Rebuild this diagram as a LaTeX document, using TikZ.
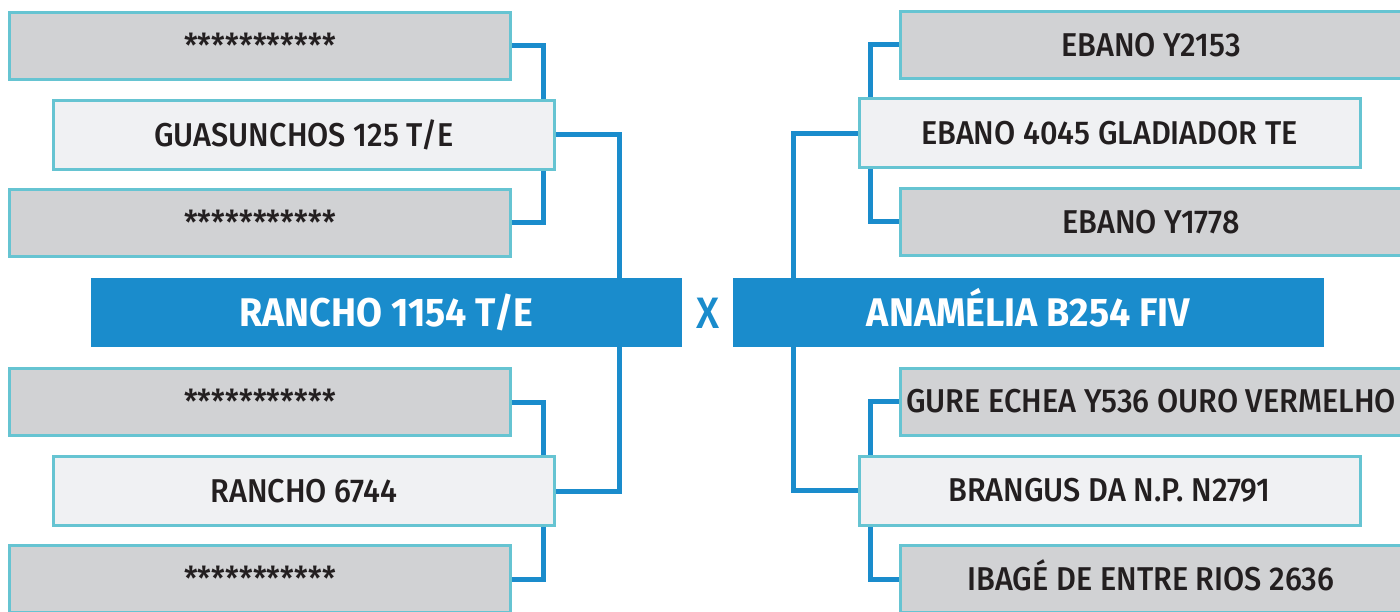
\documentclass[tikz,border=0pt]{standalone}
\usepackage{fontspec}
\setmainfont{Fira Sans}
\newfontfamily\boxfont{Fira Sans Medium}[FakeStretch=0.93]
\newfontfamily\animalfont{Fira Sans}[FakeStretch=0.94]
\usetikzlibrary{positioning}

\definecolor{bracketblue}{HTML}{1A8CCC}
\definecolor{edgeteal}{HTML}{66C4D2}
\definecolor{sirefill}{HTML}{D1D2D4}
\definecolor{parentfill}{HTML}{F0F1F3}
\definecolor{inkdark}{HTML}{231F20}

\begin{document}
\begin{tikzpicture}[
      x=1pt, y=-1pt,
      grand/.style={draw=edgeteal, line width=3pt, fill=sirefill, text=inkdark,
        minimum width=501pt, minimum height=67pt, inner sep=0pt,
        text height=22.7pt, text depth=0pt,
        font=\boxfont\fontsize{33}{36}\selectfont},
      parent/.style={grand, fill=parentfill, minimum height=69pt},
      animal/.style={fill=bracketblue, text=white, minimum width=591pt, minimum height=69pt,
        inner sep=0pt, text height=27.6pt, text depth=0pt,
        font=\animalfont\fontsize{40}{44}\selectfont\bfseries},
      link/.style={draw=bracketblue, line width=5pt},
    ]
    \useasboundingbox (0,0) rectangle (1400,612);

    % the two animals crossed
    \node[animal] (bull) at (386.5,312.5) {RANCHO 1154 T/E};
    \node[animal] (cow) at (1028.5,312.5) {ANAMÉLIA B254 FIV};
    \node[text=bracketblue, font=\boxfont\fontsize{44}{48}\selectfont] (cross) at (708,313) {X};

    % sire side
    \node[grand] (ss) at (260,46) {***********};
    \node[parent] (sire) at (304,135) {GUASUNCHOS 125 T/E};
    \node[grand] (sd) at (260,223) {***********};
    \node[grand] (ds) at (260,402) {***********};
    \node[parent] (dam) at (304,491) {RANCHO 6744};
    \node[grand] (dd) at (260,579) {***********};

    % dam side
    \node[grand] (css) at (1151,45) {EBANO Y2153};
    \node[parent] (csire) at (1109.5,133.5) {EBANO 4045 GLADIADOR TE};
    \node[grand] (csd) at (1151,222) {EBANO Y1778};
    \node[grand] (cds) at (1151,401.5) {GURE ECHEA Y536 OURO VERMELHO};
    \node[parent] (cdam) at (1109.5,490.5) {BRANGUS DA N.P. N2791};
    \node[grand] (cdd) at (1151,579) {IBAGÉ DE ENTRE RIOS 2636};

    % bracket lines
    \draw[link] (ss.east) -| ([xshift=-13pt]sire.north east);
    \draw[link] (sd.east) -| ([xshift=-13pt]sire.south east);
    \draw[link] (ds.east) -| ([xshift=-13pt]dam.north east);
    \draw[link] (dd.east) -| ([xshift=-13pt]dam.south east);
    \draw[link] (sire.east) -| ([xshift=-63pt]bull.north east);
    \draw[link] (dam.east) -| ([xshift=-63pt]bull.south east);

    \draw[link] (css.west) -| ([xshift=13pt]csire.north west);
    \draw[link] (csd.west) -| ([xshift=13pt]csire.south west);
    \draw[link] (cds.west) -| ([xshift=13pt]cdam.north west);
    \draw[link] (cdd.west) -| ([xshift=13pt]cdam.south west);
    \draw[link] (csire.west) -| ([xshift=61pt]cow.north west);
    \draw[link] (cdam.west) -| ([xshift=61pt]cow.south west);
  \end{tikzpicture}
\end{document}
